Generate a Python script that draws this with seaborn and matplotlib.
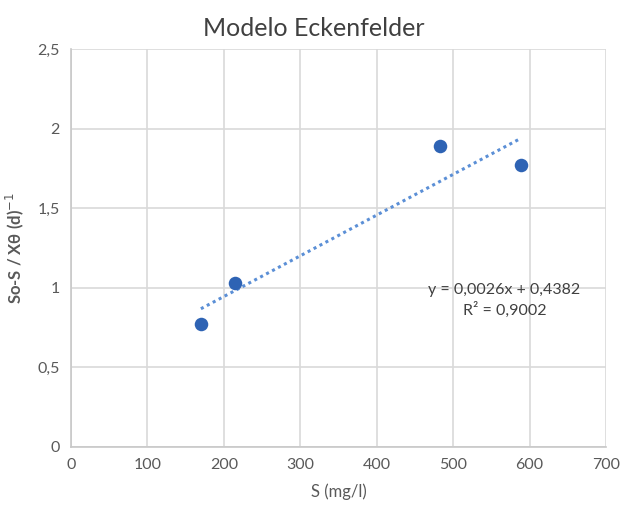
import matplotlib
matplotlib.use("Agg")
import matplotlib.pyplot as plt
import seaborn as sns
import numpy as np
import pandas as pd

# Data
s_values = [170, 215, 483, 589]
y_values = [0.77, 1.03, 1.89, 1.77]
x_ticks = [0, 100, 200, 300, 400, 500, 600, 700]
y_ticks = [0, 0.5, 1, 1.5, 2, 2.5]
y_tick_labels = ["0", "0,5", "1", "1,5", "2", "2,5"]
equation_text = "y = 0,0026x + 0,4382\nR² = 0,9002"

sns.set_theme(style="white")
plt.rcParams['font.family'] = ['Lato', 'DejaVu Sans']

df = pd.DataFrame({"S": s_values, "Y": y_values})

fig = plt.figure(figsize=(6.28, 5.22), dpi=100)
ax = fig.add_axes([0.113, 0.144, 0.852, 0.762])

grid_col = "#d9d9d9"
sns.scatterplot(data=df, x="S", y="Y", ax=ax, color="#2e63b4", s=95,
                edgecolor="#2e63b4", linewidth=0, zorder=3)

# linear trendline fitted to the data
coef = np.polyfit(s_values, y_values, 1)
xs = np.array([min(s_values), max(s_values)])
ax.plot(xs, np.polyval(coef, xs), linestyle=(0, (1, 1.2)), color="#5b8fd6",
        linewidth=2.2, zorder=2)

ax.set_xlim(0, 700)
ax.set_ylim(0, 2.5)
ax.set_xticks(x_ticks)
ax.set_xticklabels([str(t) for t in x_ticks])
ax.set_yticks(y_ticks)
ax.set_yticklabels(y_tick_labels)
ax.grid(True, color=grid_col, linewidth=1.2)
ax.set_axisbelow(True)
for side in ["top", "right"]:
    ax.spines[side].set_visible(False)
for side in ["left", "bottom"]:
    ax.spines[side].set_color("#c8c8c8")
    ax.spines[side].set_linewidth(1.2)
ax.tick_params(axis="both", colors="#595959", labelsize=11.5, length=0, pad=8)

ax.set_xlabel("S (mg/l)", fontsize=12, color="#595959", labelpad=8)
ax.set_ylabel("So-S / Xθ (d)$^{-1}$", fontsize=12, color="#595959",
              fontweight="bold", labelpad=8)
fig.suptitle("Modelo Eckenfelder", fontsize=18, color="#404040", y=0.967)

ax.text(567, 0.92, equation_text, ha="center", va="center", fontsize=11.5,
        color="#404040", linespacing=1.4)

fig.savefig("out.png", dpi=100)
